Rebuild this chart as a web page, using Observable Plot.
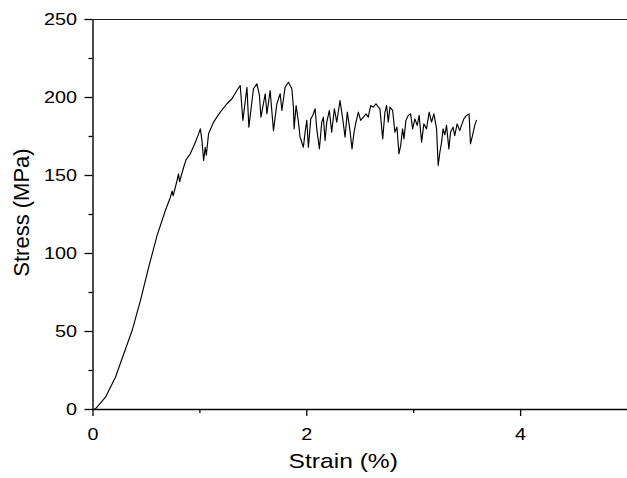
<!DOCTYPE html>
<html>
<head>
<meta charset="utf-8">
<script src="https://cdn.jsdelivr.net/npm/d3@7"></script>
<script src="https://cdn.jsdelivr.net/npm/@observablehq/plot@0.6"></script>
<style>
  html, body { margin: 0; padding: 0; background: #fff; }
</style>
</head>
<body>
<div id="chart"></div>
<script>
const strain = [
  0, 0.023, 0.117, 0.210, 0.288, 0.366, 0.444, 0.521, 0.599, 0.677, 0.724,
  0.74, 0.75, 0.786, 0.80, 0.81, 0.848, 0.87, 0.91, 0.95, 0.988,
  1.004, 1.020, 1.035, 1.050, 1.060, 1.081, 1.128, 1.190, 1.253, 1.300, 1.346, 1.377,
  1.402, 1.440, 1.458, 1.501, 1.533, 1.557, 1.571, 1.611, 1.627, 1.657, 1.688, 1.720,
  1.751, 1.767, 1.797, 1.828, 1.860,
  1.875, 1.881, 1.900, 1.922, 1.937, 1.968, 1.984, 2.000, 2.015, 2.037, 2.056, 2.078,
  2.093, 2.118, 2.140, 2.155, 2.171, 2.187, 2.211, 2.233, 2.258, 2.280, 2.311, 2.336,
  2.358, 2.379, 2.404, 2.423, 2.442, 2.460, 2.482, 2.504, 2.529, 2.554, 2.575, 2.598,
  2.622, 2.647, 2.669,
  2.684, 2.710, 2.731, 2.747, 2.762, 2.778, 2.803, 2.824, 2.843, 2.862, 2.878, 2.896,
  2.909, 2.927, 2.949, 2.971, 2.990, 3.011, 3.033, 3.051, 3.074, 3.095, 3.120, 3.145,
  3.167, 3.189, 3.214, 3.229, 3.245, 3.261, 3.275, 3.291, 3.307, 3.329, 3.345, 3.368,
  3.384, 3.406, 3.431, 3.447, 3.469, 3.494, 3.518, 3.531, 3.550, 3.571, 3.587
];
const stress = [
  0, 0.4, 7.9, 20.7, 35.7, 50.6, 69.9, 91.2, 111.5, 127.6, 136.1,
  140, 137, 146.8, 151, 146, 155.3, 160, 163.9, 170, 176.7,
  179.9, 172, 159.6, 168.1, 163, 176.7, 184.2, 190.6, 196.0, 199.2, 204.5, 207.7,
  185.3, 206.6, 181.0, 205.6, 208.8, 201.3, 187.4, 202.4, 189.6, 204.5, 178.8, 196.0,
  202.4, 191.7, 206.6, 209.8, 205.6,
  193.8, 179.9, 194.9, 184.2, 174.6, 168.1, 177.7, 185.3, 168.1, 186.3, 188.5, 192.8,
  179.9, 167.1, 184.2, 187.4, 172.4, 184.2, 191.7, 177.8, 192.8, 184.2, 198.1, 186.3,
  174.6, 190.6, 178.8, 167.1, 177.8, 184.2, 190.6, 185.3, 187.4, 189.5, 187.4, 194.9,
  193.8, 196.0, 193.8,
  192.8, 173.5, 190.6, 194.9, 184.2, 193.8, 191.7, 177.8, 181, 163.9, 169.2, 179.9,
  173.5, 185.3, 188.5, 189.5, 179.9, 186.3, 182.1, 188.5, 171.4, 183.1, 179.9, 190.6,
  184.2, 189.5, 179.9, 156.4, 164.9, 171.4, 179.9, 176, 182.1, 167.1, 177.8, 181,
  175.6, 183.1, 178.8, 182.1, 186.3, 188.5, 189.5, 170.3, 175.6, 182.1, 185.3
];
const xMajorTicks = [0, 2, 4];
const xMinorTicks = [1, 3];
const yMajorTicks = [0, 50, 100, 150, 200, 250];
const yMinorTicks = [25, 75, 125, 175, 225];
const xTitle = "Strain (%)";
const yTitle = "Stress (MPa)";

const data = strain.map((s, i) => ({strain: s, stress: stress[i]}));

const chart = Plot.plot({
  width: 627,
  height: 478,
  marginLeft: 92.5,
  marginRight: 0,
  marginTop: 19,
  marginBottom: 69,
  style: {fontFamily: "'Liberation Sans', Arial, sans-serif", background: "#fff", color: "#000"},
  x: {domain: [0, 5]},
  y: {domain: [0, 250]},
  marks: [
    Plot.axisY({ticks: yMajorTicks, tickSize: 8, tickPadding: 8, fontSize: 16.5, tickFormat: d => String(d), label: null, strokeWidth: 1.3}),
    Plot.axisY({ticks: yMinorTicks, tickSize: 4, fill: "none", label: null, strokeWidth: 1.3}),
    Plot.axisX({ticks: xMajorTicks, tickSize: 7, tickPadding: 12, fontSize: 16.5, tickFormat: d => String(d), label: null, strokeWidth: 1.3}),
    Plot.axisX({ticks: xMinorTicks, tickSize: 4, fill: "none", label: null, strokeWidth: 1.3}),
    Plot.ruleX([0], {stroke: "#000", strokeWidth: 1.4}),
    Plot.ruleY([0], {stroke: "#000", strokeWidth: 1.4}),
    Plot.ruleY([250], {stroke: "#222", strokeWidth: 1.2}),
    Plot.line(data, {x: "strain", y: "stress", stroke: "#000", strokeWidth: 1.15}),
    Plot.text([xTitle], {frameAnchor: "bottom", dx: -17, dy: 58, lineAnchor: "bottom", textAnchor: "middle", fontSize: 20.5, fill: "#000"}),
    Plot.text([yTitle], {frameAnchor: "left", rotate: -90, textAnchor: "middle", lineAnchor: "bottom", dx: -64, dy: -2, fontSize: 22, fill: "#000"})
  ]
});
// Reference text is horizontally widened; mimic by scaling glyphs about their anchors
d3.select(chart).selectAll("text").each(function() {
  const t = d3.select(this);
  const tr = t.attr("transform") || "";
  if (tr.includes("rotate")) return;
  t.attr("transform", tr + " scale(1.2,1)");
});
document.getElementById("chart").appendChild(chart);
</script>
</body>
</html>
